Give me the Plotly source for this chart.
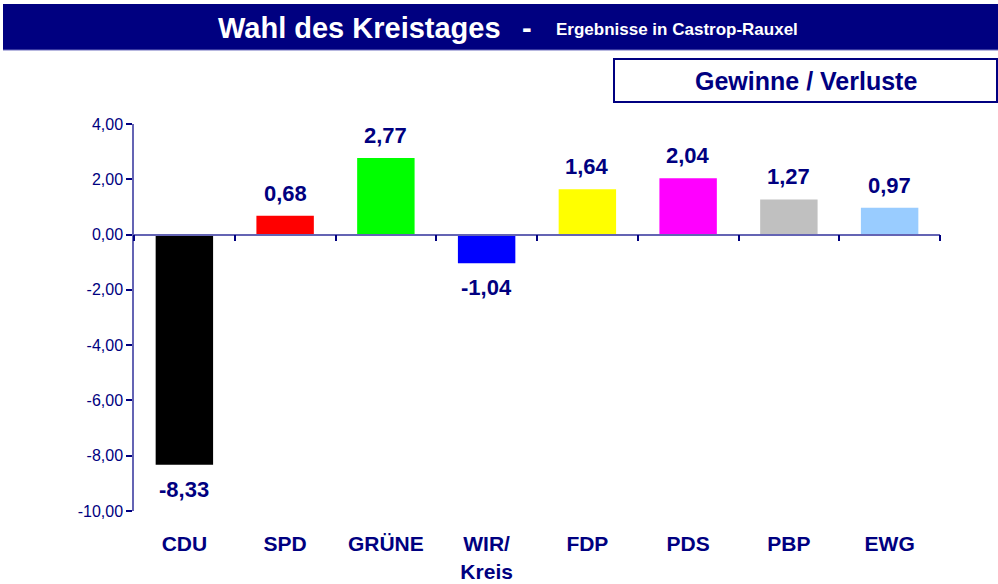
import plotly.graph_objects as go

categories = ["CDU", "SPD", "GRÜNE", "WIR/<br>Kreis", "FDP", "PDS", "PBP", "EWG"]
values = [-8.33, 0.68, 2.77, -1.04, 1.64, 2.04, 1.27, 0.97]
colors = ["#000000", "#FF0000", "#00FF00", "#0000FF", "#FFFF00", "#FF00FF", "#C0C0C0", "#99CCFF"]
y_ticks = [-10, -8, -6, -4, -2, 0, 2, 4]

W, H = 998, 584
PLOT_L, PLOT_R, PLOT_T, PLOT_B = 134, 940, 124, 511   # page pixels of the plot area
L, T = PLOT_L, PLOT_T
R, B = W - PLOT_R, H - PLOT_B
NAVY = "#000080"
AXIS = "#6464B4"
FONT = "Arial, Liberation Sans, sans-serif"

pw, ph = W - L - R, H - T - B
def px_x(p):
    return (p - L) / pw
def px_y(p):
    return (H - B - p) / ph

ymin, ymax = -10, 4

def de(v):
    return f"{v:.2f}".replace(".", ",")

fig = go.Figure()
fig.add_trace(go.Bar(x=categories, y=values, marker_color=colors, marker_line_width=0,
                     width=0.57, showlegend=False, hoverinfo="x+y"))
# invisible trace for the zero-line axis
fig.add_trace(go.Scatter(x=[-0.5, 7.5], y=[0, 0], xaxis="x2", mode="lines",
                         line=dict(width=0), showlegend=False, hoverinfo="skip"))

annotations = []
for c, v in zip(categories, values):
    annotations.append(dict(
        x=c, y=v, xref="x", yref="y",
        text="<b>" + de(v) + "</b>",
        showarrow=False, font=dict(family=FONT, size=22, color=NAVY),
        yanchor="bottom" if v >= 0 else "top",
        yshift=8 if v >= 0 else -10,
    ))

# title bar texts
annotations.append(dict(
    x=px_x(503), y=px_y(28), xref="paper", yref="paper", showarrow=False,
    xanchor="right", yanchor="middle", text="<b>Wahl des Kreistages</b>",
    font=dict(family=FONT, size=29, color="white"),
))
annotations.append(dict(
    x=px_x(527), y=px_y(28), xref="paper", yref="paper", showarrow=False,
    xanchor="center", yanchor="middle", text="<b>-</b>",
    font=dict(family=FONT, size=29, color="white"),
))
annotations.append(dict(
    x=px_x(554), y=px_y(30), xref="paper", yref="paper", showarrow=False,
    xanchor="left", yanchor="middle", text="<b>Ergebnisse in Castrop-Rauxel</b>",
    font=dict(family=FONT, size=17, color="white"),
))
annotations.append(dict(
    x=px_x(806), y=px_y(81), xref="paper", yref="paper", showarrow=False,
    xanchor="center", yanchor="middle",
    text="<b>Gewinne / Verluste</b>",
    font=dict(family=FONT, size=25, color=NAVY),
))

shapes = [
    dict(type="rect", xref="paper", yref="paper",
         x0=px_x(3), x1=px_x(1000), y0=px_y(50), y1=px_y(4),
         fillcolor=NAVY, line=dict(width=0), layer="above"),
    dict(type="line", xref="paper", yref="paper",
         x0=px_x(3), x1=px_x(1000), y0=px_y(50), y1=px_y(50),
         line=dict(color="#7070C0", width=1), layer="above"),
    dict(type="rect", xref="paper", yref="paper",
         x0=px_x(614), x1=px_x(997), y0=px_y(102), y1=px_y(59),
         fillcolor="white", line=dict(color=NAVY, width=2), layer="above"),
]

zero_pos = (0 - ymin) / (ymax - ymin)

fig.update_layout(
    width=W, height=H, autosize=False,
    margin=dict(l=L, r=R, t=T, b=B),
    paper_bgcolor="white", plot_bgcolor="white",
    font=dict(family=FONT, color=NAVY),
    xaxis=dict(type="category", range=[-0.5, 7.5], showline=False, showgrid=False,
               zeroline=False, ticks="outside", ticklen=14, tickcolor="rgba(0,0,0,0)",
               tickfont=dict(family=FONT, size=21, color=NAVY), automargin=False,
               tickprefix="<b>", ticksuffix="</b>"),
    xaxis2=dict(overlaying="x", anchor="free", position=zero_pos, range=[-0.5, 7.5],
                showline=True, linecolor=AXIS, linewidth=1.5, showgrid=False, zeroline=False,
                tickvals=[i - 0.5 for i in range(9)], ticks="outside", ticklen=6,
                tickcolor=NAVY, tickwidth=1.5, showticklabels=False, automargin=False),
    yaxis=dict(range=[ymin, ymax], tickvals=y_ticks, ticktext=[de(t) for t in y_ticks],
               showline=True, linecolor=AXIS, linewidth=1.5, showgrid=False, zeroline=False,
               ticks="outside", ticklen=6, tickcolor=NAVY, tickwidth=1.5, automargin=False,
               tickfont=dict(family=FONT, size=16, color=NAVY)),
    annotations=annotations,
    shapes=shapes,
)

fig.write_html("out.html",
               config={"responsive": False, "displayModeBar": False},
               post_script="document.body.style.margin='0';document.body.style.overflow='hidden';")
